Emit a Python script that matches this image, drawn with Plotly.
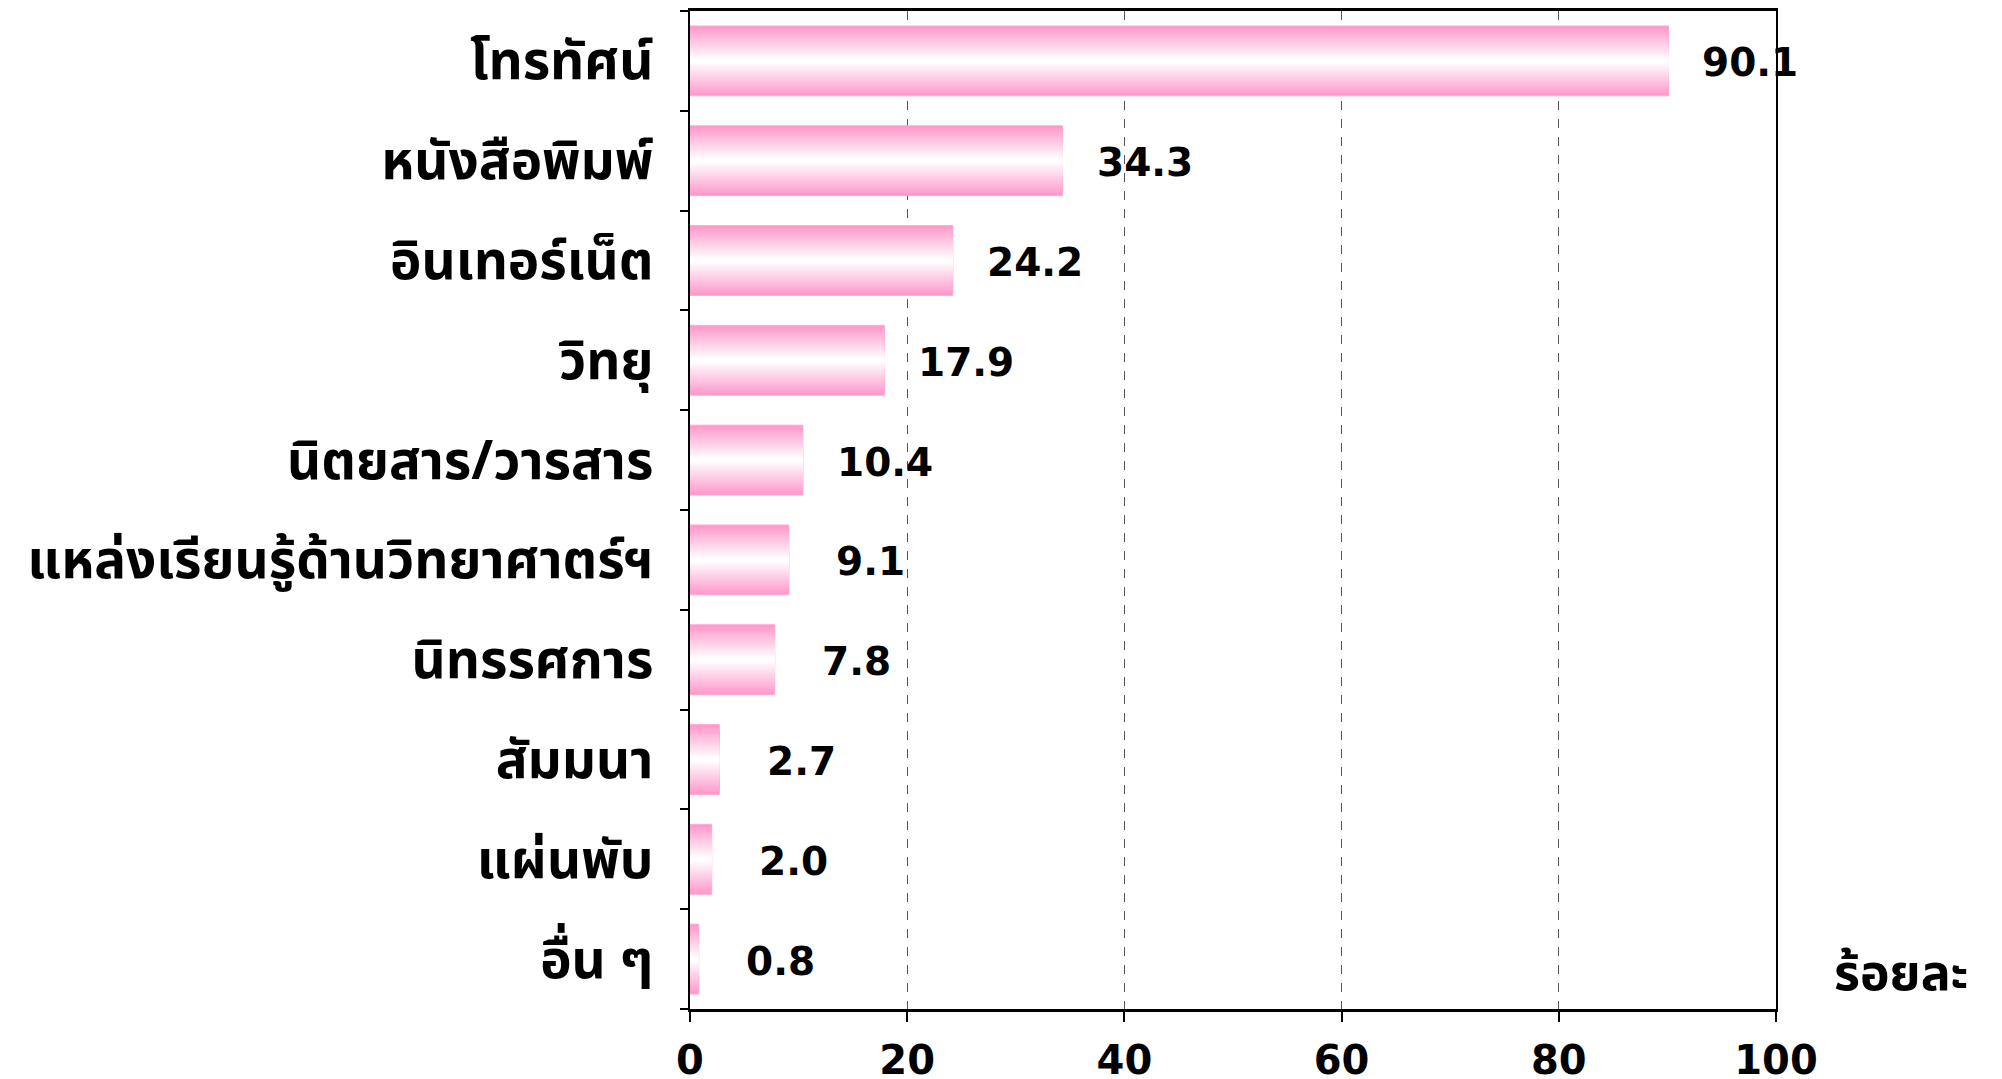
import plotly.graph_objects as go

categories = ["โทรทัศน์", "หนังสือพิมพ์", "อินเทอร์เน็ต", "วิทยุ", "นิตยสาร/วารสาร",
              "แหล่งเรียนรู้ด้านวิทยาศาตร์ฯ", "นิทรรศการ", "สัมมนา", "แผ่นพับ", "อื่น ๆ"]
values = [90.1, 34.3, 24.2, 17.9, 10.4, 9.1, 7.8, 2.7, 2.0, 0.8]
value_labels = ["90.1", "34.3", "24.2", "17.9", "10.4", "9.1", "7.8", "2.7", "2.0", "0.8"]
x_ticks = [0, 20, 40, 60, 80, 100]
x_title = "ร้อยละ"

THAI = "Noto Sans Thai, Noto Sans Thai UI, Loma, Garuda, Tahoma, Noto Sans, DejaVu Sans, sans-serif"
NUM = "DejaVu Sans, sans-serif"

fig = go.Figure()

# gradient emulation: overlaid bars of decreasing thickness, pink -> white
N = 16
pink = (255, 153, 204)
for k in range(N):
    t = k / (N - 1)
    c = tuple(int(round(p + (255 - p) * t)) for p in pink)
    w = 0.7 * (1 - k / N)
    fig.add_trace(go.Bar(
        x=values, y=categories, orientation="h", width=w,
        marker=dict(color="rgb(%d,%d,%d)" % c,
                    line=dict(width=1 if k == 0 else 0, color="rgb(255,170,214)")),
        showlegend=False, hoverinfo="skip",
    ))

for cat, v, lab in zip(categories, values, value_labels):
    fig.add_annotation(x=v, y=cat, text="<b>%s</b>" % lab, showarrow=False,
                       xanchor="center", yanchor="middle", xshift=82, yshift=-2,
                       font=dict(family=NUM, size=39, color="black"))

fig.add_annotation(xref="paper", yref="paper", x=1, y=0, xanchor="left", yanchor="bottom",
                   xshift=56, yshift=-6, text="<b>%s</b>" % x_title, showarrow=False,
                   font=dict(family=THAI, size=50, color="black"))

fig.update_layout(
    width=2002, height=1079,
    margin=dict(l=682, r=234, t=3, b=78),
    barmode="overlay", bargap=0.3,
    plot_bgcolor="white", paper_bgcolor="white",
    xaxis=dict(range=[0, 100], tickvals=x_ticks, ticktext=["<b>%d</b>" % t for t in x_ticks],
               showgrid=True, gridcolor="#555555", griddash="dash", gridwidth=1,
               showline=True, linecolor="black", linewidth=3, mirror=True,
               ticks="outside", ticklen=10, tickwidth=2, tickcolor="black",
               tickfont=dict(family=NUM, size=40, color="black"),
               ticklabelstandoff=4, zeroline=False, automargin=False),
    yaxis=dict(categoryorder="array", categoryarray=categories, autorange="reversed",
               tickson="boundaries", ticks="outside", ticklen=8, tickwidth=2, tickcolor="black",
               showline=True, linecolor="black", linewidth=2, mirror=True,
               showgrid=False, ticklabelstandoff=24, automargin=False,
               tickmode="array", tickvals=categories, ticktext=["<b>%s</b>" % c for c in categories],
               tickfont=dict(family=THAI, size=53, color="black")),
)

fig.write_html("out.html")
